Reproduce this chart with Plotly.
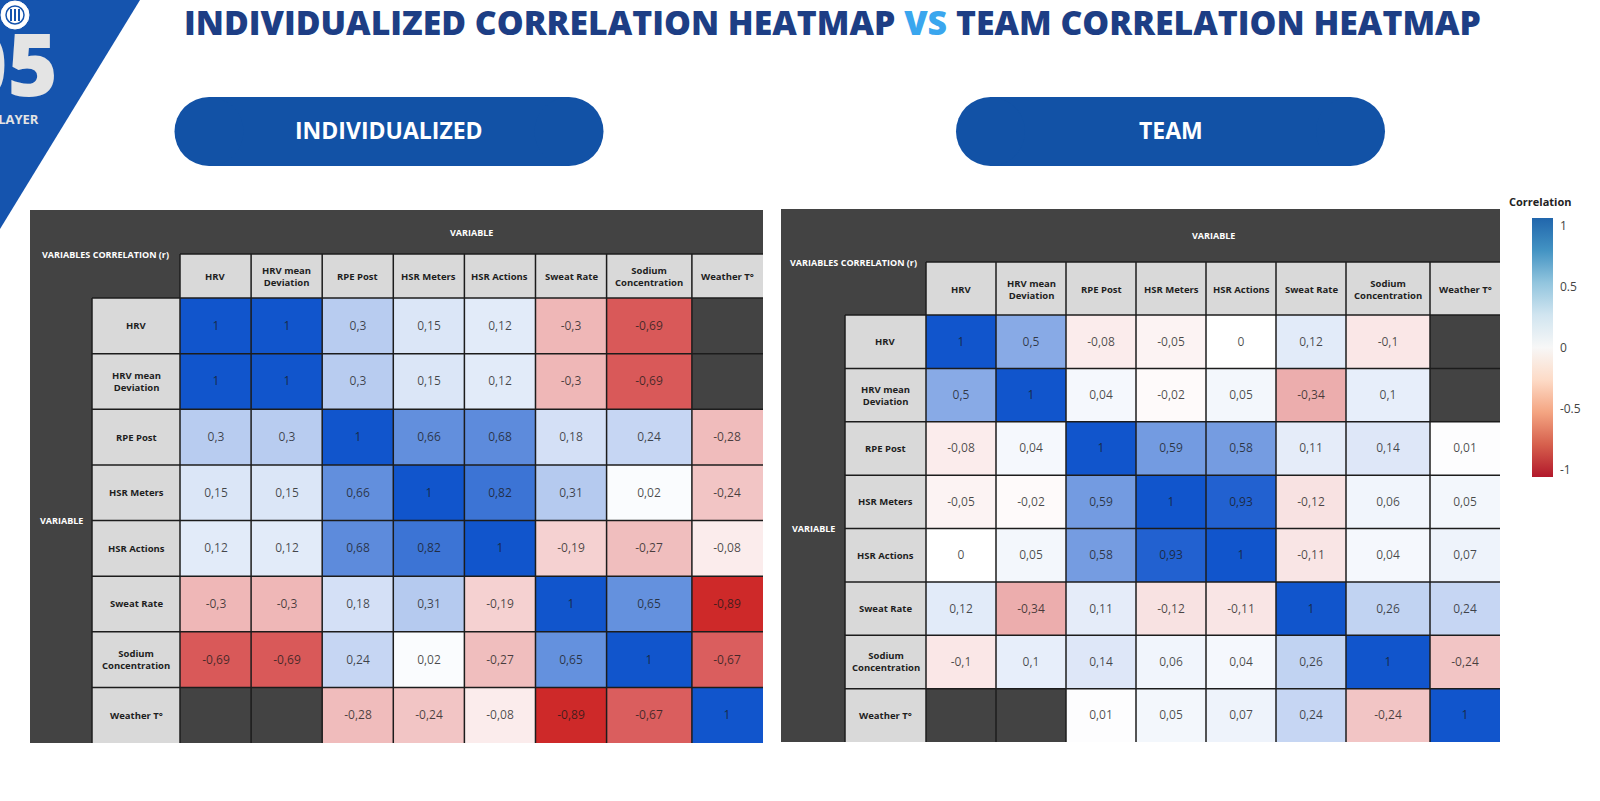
import plotly.graph_objects as go

W, H = 1600, 801

# ---------------- data ----------------
variables = ["HRV", "HRV mean Deviation", "RPE Post", "HSR Meters", "HSR Actions",
             "Sweat Rate", "Sodium Concentration", "Weather T°"]
header_labels = ["HRV", "HRV mean<br>Deviation", "RPE Post", "HSR Meters", "HSR Actions",
                 "Sweat Rate", "Sodium<br>Concentration", "Weather T°"]

individualized = [
    [1, 1, 0.3, 0.15, 0.12, -0.3, -0.69, None],
    [1, 1, 0.3, 0.15, 0.12, -0.3, -0.69, None],
    [0.3, 0.3, 1, 0.66, 0.68, 0.18, 0.24, -0.28],
    [0.15, 0.15, 0.66, 1, 0.82, 0.31, 0.02, -0.24],
    [0.12, 0.12, 0.68, 0.82, 1, -0.19, -0.27, -0.08],
    [-0.3, -0.3, 0.18, 0.31, -0.19, 1, 0.65, -0.89],
    [-0.69, -0.69, 0.24, 0.02, -0.27, 0.65, 1, -0.67],
    [None, None, -0.28, -0.24, -0.08, -0.89, -0.67, 1],
]

team = [
    [1, 0.5, -0.08, -0.05, 0, 0.12, -0.1, None],
    [0.5, 1, 0.04, -0.02, 0.05, -0.34, 0.1, None],
    [-0.08, 0.04, 1, 0.59, 0.58, 0.11, 0.14, 0.01],
    [-0.05, -0.02, 0.59, 1, 0.93, -0.12, 0.06, 0.05],
    [0, 0.05, 0.58, 0.93, 1, -0.11, 0.04, 0.07],
    [0.12, -0.34, 0.11, -0.12, -0.11, 1, 0.26, 0.24],
    [-0.1, 0.1, 0.14, 0.06, 0.04, 0.26, 1, -0.24],
    [None, None, 0.01, 0.05, 0.07, 0.24, -0.24, 1],
]

colorbar_ticks = [-1, -0.5, 0, 0.5, 1]
colorbar_ticktext = ["-1", "-0.5", "0", "0.5", "1"]

# ---------------- styles ----------------
FONT = "Open Sans"
DARK = "#434343"
LIGHT = "#D9D9D9"
SEP = "#1c1c1c"
NAVY = "#1D3E85"
BLUE = "#1252A6"
COL_WEIGHTS = [1, 1, 1, 1, 1, 1, 1.2, 1]   # relative column widths (layout style)
cell_scale = [[0.0, "#C80F0F"], [0.5, "#FFFFFF"], [1.0, "#1155CC"]]
bar_scale = [[0.0, "#b2182b"], [0.125, "#d6604d"], [0.25, "#f4a582"], [0.375, "#fddbc7"],
             [0.5, "#f7f7f7"], [0.625, "#d1e5f0"], [0.75, "#92c5de"], [0.875, "#4393c3"],
             [1.0, "#2166ac"]]


def fx(x):
    return x / W


def fy(y):
    return 1 - y / H


def fmt(v):
    if v is None:
        return ""
    return ("%g" % v).replace(".", ",")


shapes = []
annotations = []


def rect(x0, y0, x1, y1, fill, layer="below"):
    shapes.append(dict(type="rect", xref="paper", yref="paper",
                       x0=fx(x0), x1=fx(x1), y0=fy(y1), y1=fy(y0),
                       fillcolor=fill, line=dict(width=0), layer=layer))


def seg(x0, y0, x1, y1, color=SEP, width=1.5):
    shapes.append(dict(type="line", xref="paper", yref="paper",
                       x0=fx(x0), x1=fx(x1), y0=fy(y0), y1=fy(y1),
                       line=dict(color=color, width=width), layer="above"))


def text(x, y, s, size, color, weight="bold", xanchor="center", family=FONT):
    annotations.append(dict(x=fx(x), y=fy(y), xref="paper", yref="paper", text=s,
                            showarrow=False, xanchor=xanchor, yanchor="middle",
                            font=dict(family=family, size=size, color=color, weight=weight)))


# table geometry (pixels)
tables = [
    dict(x0=30, xl=92, xc=180, x1=763, y0=210, yh=254, yc=298, y1=743, data=individualized,
         ax="x", ay="y"),
    dict(x0=781, xl=845, xc=926, x1=1500, y0=209, yh=262, yc=315, y1=742, data=team,
         ax="x2", ay="y2"),
]

fig = go.Figure()
n = len(variables)
edges = [0]
for w in COL_WEIGHTS:
    edges.append(edges[-1] + w)
total = edges[-1]

for k, T in enumerate(tables):
    span = T["x1"] - T["xc"]
    colx = [T["xc"] + e / total * span for e in edges]
    rh = (T["y1"] - T["yc"]) / n
    rect(T["x0"], T["y0"], T["x1"], T["y1"], DARK)
    for i in range(n):
        rect(colx[i], T["yh"], colx[i + 1], T["yc"], LIGHT)
        text((colx[i] + colx[i + 1]) / 2, (T["yh"] + T["yc"]) / 2 + 1, header_labels[i], 9.5, "#1e1e1e")
        rect(T["xl"], T["yc"] + i * rh, T["xc"], T["yc"] + (i + 1) * rh, LIGHT)
        text((T["xl"] + T["xc"]) / 2, T["yc"] + (i + 0.5) * rh, header_labels[i], 9.5, "#1e1e1e")
    for i in range(1, n):
        seg(colx[i], T["yh"], colx[i], T["y1"])
    for j in range(0, n):
        seg(T["xl"], T["yc"] + j * rh, T["x1"], T["yc"] + j * rh)
    seg(T["xc"], T["yh"], T["xc"], T["y1"])
    seg(T["xl"], T["yc"], T["xl"], T["y1"])
    seg(T["xc"], T["yh"], T["x1"], T["yh"])
    text((T["xc"] + T["x1"]) / 2, (T["y0"] + T["yh"]) / 2, "VARIABLE", 9, "#ffffff")
    text((T["x0"] + T["xc"]) / 2, (T["y0"] + T["yc"]) / 2, "VARIABLES CORRELATION (r)", 9, "#ffffff")
    text((T["x0"] + T["xl"]) / 2, (T["yc"] + T["y1"]) / 2, "VARIABLE", 9, "#ffffff")

    z = T["data"]
    txt = [[fmt(v) for v in row] for row in z]
    fig.add_trace(go.Heatmap(
        z=z, x=edges, y=variables, text=txt, texttemplate="%{text}",
        textfont=dict(family=FONT, size=12, color="rgba(25,25,25,0.78)"),
        colorscale=cell_scale, zmin=-1, zmax=1, showscale=False, hoverinfo="skip",
        xaxis=T["ax"], yaxis=T["ay"]))
    sfx = "" if k == 0 else "2"
    fig.layout["xaxis" + sfx] = dict(domain=[fx(T["xc"]), fx(T["x1"])], range=[0, total],
                                     visible=False, fixedrange=True, anchor="y" + sfx)
    fig.layout["yaxis" + sfx] = dict(domain=[fy(T["y1"]), fy(T["yc"])], range=[n - 0.5, -0.5],
                                     visible=False, fixedrange=True, anchor="x" + sfx)

# colorbar (legend of the correlation scale)
fig.add_trace(go.Scatter(
    x=[None, None], y=[None, None], mode="markers", showlegend=False, hoverinfo="skip",
    marker=dict(color=[-1, 1], cmin=-1.06, cmax=1.06, colorscale=bar_scale, showscale=True,
                colorbar=dict(x=fx(1532), xanchor="left", y=fy(347.5), yanchor="middle",
                              len=259 / H, lenmode="fraction", thickness=21, outlinewidth=0,
                              ypad=0, xpad=0, ticks="outside", ticklen=5, tickcolor="rgba(0,0,0,0)",
                              tickvals=colorbar_ticks, ticktext=colorbar_ticktext,
                              tickfont=dict(family=FONT, size=12, color="#444444"))),
    xaxis="x", yaxis="y"))
text(1540, 202, "Correlation", 11, "#222222")

# decorative corner
shapes.append(dict(type="path", xref="paper", yref="paper",
                   path="M 0,1 L %f,1 L 0,%f Z" % (fx(140), fy(229)),
                   fillcolor="#1554AE", line=dict(width=0), layer="below"))
shapes.append(dict(type="circle", xref="paper", yref="paper", x0=fx(1), x1=fx(29), y0=fy(29), y1=fy(1),
                   fillcolor="#ffffff", line=dict(color="#ffffff", width=1), layer="below"))
shapes.append(dict(type="circle", xref="paper", yref="paper", x0=fx(6), x1=fx(24), y0=fy(24), y1=fy(6),
                   fillcolor="#ffffff", line=dict(color="#1554AE", width=1.5), layer="below"))
for xx in (11, 15, 19):
    shapes.append(dict(type="line", xref="paper", yref="paper", x0=fx(xx), x1=fx(xx), y0=fy(21), y1=fy(9),
                       line=dict(color="#1554AE", width=2), layer="below"))
text(60, 63, "05", 86, "#E4E4E4", weight=800, xanchor="right")
text(41, 119, "PLAYER", 13, "#E4E4E4", weight=700, xanchor="right")

# title
text(832, 22, "INDIVIDUALIZED CORRELATION HEATMAP <span style='color:#3AA6EE'>VS</span> TEAM CORRELATION HEATMAP",
     33.8, NAVY, weight=800)

# pills
for (cx, label) in ((389, "INDIVIDUALIZED"), (1170.5, "TEAM")):
    half_w, r = 214.5, 34.5
    rect(cx - half_w + r, 97, cx + half_w - r, 166, BLUE)
    for ex in (cx - half_w + r, cx + half_w - r):
        shapes.append(dict(type="circle", xref="paper", yref="paper",
                           x0=fx(ex - r), x1=fx(ex + r), y0=fy(166), y1=fy(97),
                           fillcolor=BLUE, line=dict(width=0), layer="below"))
    text(cx, 130, label, 23, "#ffffff", weight=700)

fig.update_layout(
    width=W, height=H, margin=dict(l=0, r=0, t=0, b=0),
    paper_bgcolor="#ffffff", plot_bgcolor=DARK,
    shapes=shapes, annotations=annotations, showlegend=False,
    font=dict(family=FONT),
)

fig.write_html("out.html")
